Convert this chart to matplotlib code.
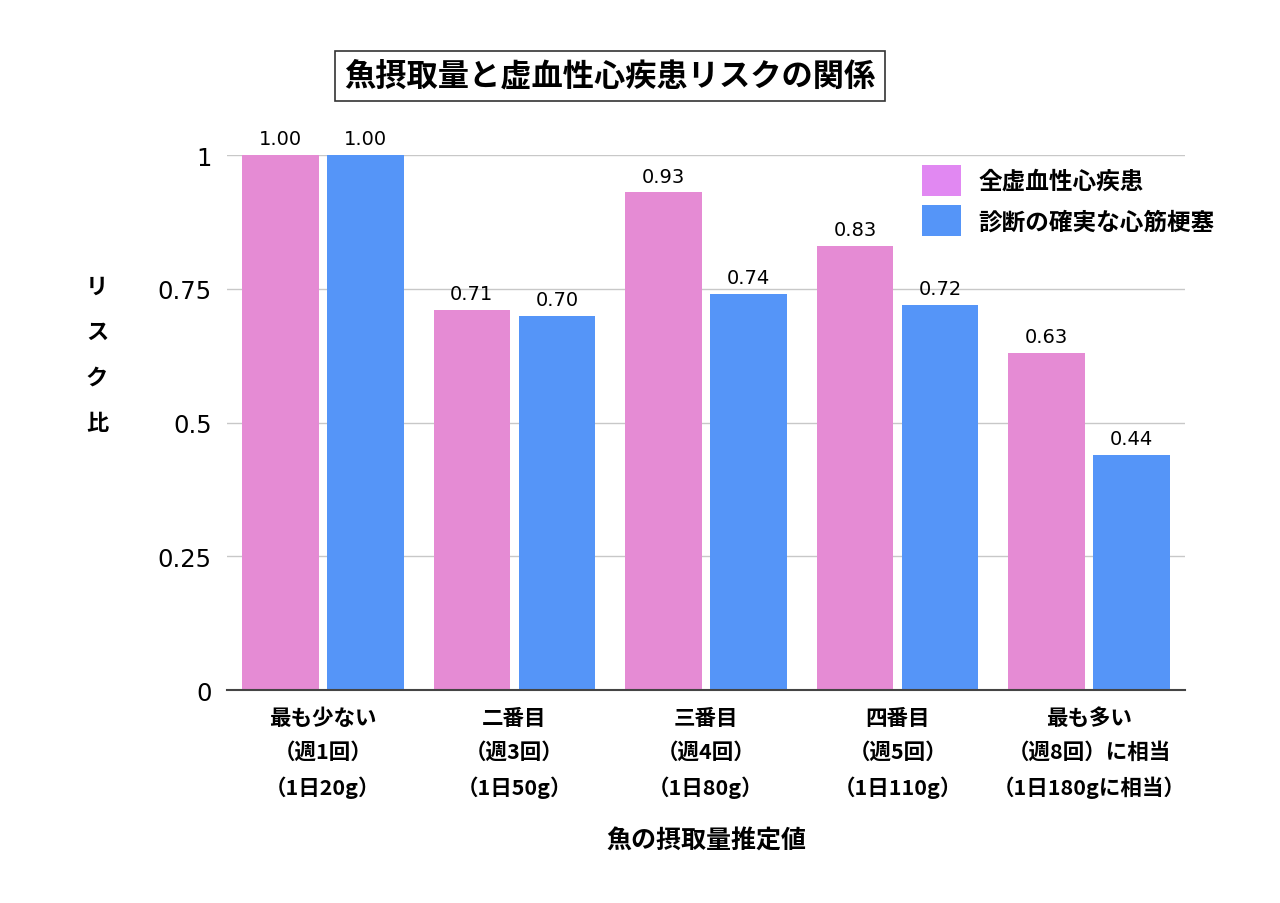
import numpy as np
import matplotlib.pyplot as plt
from matplotlib.patches import Patch

plt.rcParams['font.family'] = ['Noto Sans CJK JP', 'DejaVu Sans']

# data
categories = ["最も少ない\n（週1回）\n（1日20g）",
              "二番目\n（週3回）\n（1日50g）",
              "三番目\n（週4回）\n（1日80g）",
              "四番目\n（週5回）\n（1日110g）",
              "最も多い\n（週8回）に相当\n（1日180gに相当）"]
series_names = ["全虚血性心疾患", "診断の確実な心筋梗塞"]
all_ihd = [1.00, 0.71, 0.93, 0.83, 0.63]
definite_mi = [1.00, 0.70, 0.74, 0.72, 0.44]
yticks = [0, 0.25, 0.5, 0.75, 1]
ytick_labels = ["0", "0.25", "0.5", "0.75", "1"]

pink = "#E58BD4"
blue = "#5595F8"
legend_pink = "#E188F2"
num_font = ["DejaVu Sans"]

fig = plt.figure(figsize=(12.8, 9.04), dpi=100)
ax = fig.add_axes([0.1773, 0.2356, 0.7485, 0.5918])

x = np.arange(len(categories))
w = 0.40
off = 0.222
b1 = ax.bar(x - off, all_ihd, w, color=pink, zorder=3)
b2 = ax.bar(x + off, definite_mi, w, color=blue, zorder=3)

for bars, vals in ((b1, all_ihd), (b2, definite_mi)):
    for bar, v in zip(bars, vals):
        ax.annotate(f"{v:.2f}", (bar.get_x() + bar.get_width() / 2, v),
                    xytext=(0, 5), textcoords="offset points",
                    ha="center", va="bottom", fontsize=14,
                    family=num_font, annotation_clip=False)

ax.set_xlim(-0.5, len(categories) - 0.5)
ax.set_ylim(0, 1)
ax.set_yticks(yticks)
ax.set_yticklabels(ytick_labels, fontsize=17.5, family=num_font)
ax.set_xticks(x)
ax.set_xticklabels(categories, fontsize=15.5, linespacing=1.75, fontweight="bold")
ax.tick_params(axis="x", length=0, pad=12)
ax.tick_params(axis="y", length=0, pad=11)

ax.yaxis.grid(True, color="#c8c8c8", linewidth=1, zorder=0)
for s in ["top", "right", "left"]:
    ax.spines[s].set_visible(False)
ax.spines["bottom"].set_color("#444444")
ax.spines["bottom"].set_linewidth(1.5)
ax.spines["bottom"].set_zorder(4)

ax.set_xlabel("魚の摂取量推定値", fontsize=18, fontweight="bold", labelpad=22)

fig.text(0.0758, 0.607, "リ\nス\nク\n比", fontsize=16, fontweight="bold",
         ha="center", va="center", linespacing=2.25)

fig.text(0.4766, 0.9148, "魚摂取量と虚血性心疾患リスクの関係", fontsize=22.5,
         fontweight="bold", ha="center", va="center",
         bbox=dict(boxstyle="square,pad=0.3", facecolor="white",
                   edgecolor="#333333", linewidth=1.2))

handles = [Patch(facecolor=legend_pink), Patch(facecolor=blue)]
ax.legend(handles, series_names, loc="upper left", bbox_to_anchor=(0.703, 1.022),
          frameon=False, handlelength=1.65, handleheight=1.65,
          labelspacing=0.4, handletextpad=0.75, prop={"weight": "bold", "size": 17})

fig.savefig("out.png", dpi=100)
